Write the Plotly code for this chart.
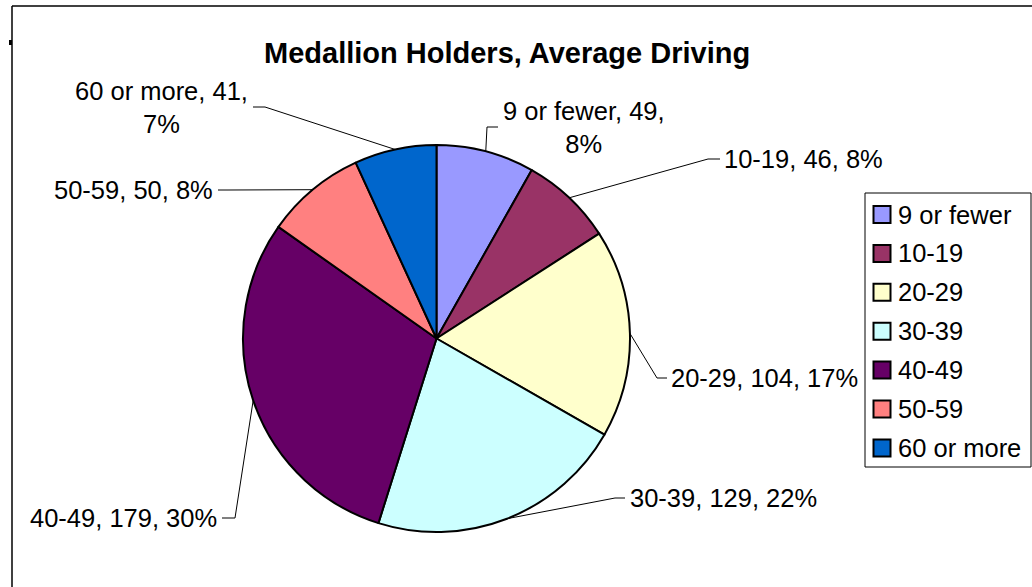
import math
import plotly.graph_objects as go

# ---- data ----
categories = ["9 or fewer", "10-19", "20-29", "30-39", "40-49", "50-59", "60 or more"]
counts = [49, 46, 104, 129, 179, 50, 41]
colors = ["#9999FF", "#993366", "#FFFFCC", "#CCFFFF", "#660066", "#FF8080", "#0066CC"]
title_text = "Medallion Holders, Average Driving"

# ---- layout constants (pixels) ----
W, H = 1032, 587
CX, CY, R = 436.5, 338.5, 193.5
FONT = "Arial, Liberation Sans, sans-serif"
FS = 25.5

def px(x):
    return x / W

def py(y):
    return 1 - y / H

total = sum(counts)

fig = go.Figure()
fig.add_trace(go.Pie(
    labels=categories, values=counts, sort=False, direction="clockwise", rotation=0,
    marker=dict(colors=colors, line=dict(color="black", width=2)),
    textinfo="none", showlegend=False,
    domain=dict(x=[px(CX - R), px(CX + R)], y=[py(CY + R), py(CY - R)]),
))

# label placement (text anchor, bend point, line end) in pixels
label_layout = [
    dict(tx=584, ty=127, xa="center", bend=(487, 127), end=(498, 127), two=True),
    dict(tx=722, ty=159, xa="left", bend=(708, 159), end=(720, 159), two=False),
    dict(tx=669, ty=378, xa="left", bend=(657, 378), end=(667, 378), two=False),
    dict(tx=628, ty=498, xa="left", bend=(615, 498), end=(625, 498), two=False),
    dict(tx=219, ty=518, xa="right", bend=(235, 518), end=(222, 518), two=False),
    dict(tx=215, ty=190, xa="right", bend=(228, 190), end=(218, 190), two=False),
    dict(tx=161, ty=107, xa="center", bend=(265, 107), end=(253, 107), two=True),
]

shapes = []
annotations = []
cum = 0
for cat, v, lay in zip(categories, counts, label_layout):
    mid = (cum + v / 2) / total * 2 * math.pi
    cum += v
    ex = CX + R * math.sin(mid)
    ey = CY - R * math.cos(mid)
    pct = round(100 * v / total)
    bx, by = lay["bend"]
    qx, qy = lay["end"]
    path = f"M {px(ex)} {py(ey)} L {px(bx)} {py(by)} L {px(qx)} {py(qy)}"
    shapes.append(dict(type="path", xref="paper", yref="paper", path=path,
                       line=dict(color="black", width=1)))
    if lay["two"]:
        txt = f"{cat}, {v},<br>{pct}%"
    else:
        txt = f"{cat}, {v}, {pct}%"
    annotations.append(dict(
        x=px(lay["tx"]), y=py(lay["ty"]), xref="paper", yref="paper",
        text=txt, showarrow=False, xanchor=lay["xa"], yanchor="middle",
        align="center", font=dict(family=FONT, size=FS, color="black"),
    ))

# title
annotations.append(dict(
    x=px(507), y=py(53), xref="paper", yref="paper", text=f"<b>{title_text}</b>",
    showarrow=False, xanchor="center", yanchor="middle",
    font=dict(family=FONT, size=29, color="black"),
))

# legend (manual, built from the category/color lists)
LX0, LY0, LX1, LY1 = 865, 193, 1031, 467
shapes.append(dict(type="rect", xref="paper", yref="paper",
                   x0=px(LX0), y0=py(LY1), x1=px(LX1), y1=py(LY0),
                   line=dict(color="black", width=1), fillcolor="white", layer="below"))
first_y, step = 214.5, 38.9
for i, (cat, col) in enumerate(zip(categories, colors)):
    yc = first_y + i * step
    shapes.append(dict(type="rect", xref="paper", yref="paper",
                       x0=px(873.5), x1=px(890.5), y0=py(yc + 8.5), y1=py(yc - 8.5),
                       fillcolor=col, line=dict(color="black", width=2)))
    annotations.append(dict(
        x=px(896), y=py(yc), xref="paper", yref="paper", text=cat, showarrow=False,
        xanchor="left", yanchor="middle", font=dict(family=FONT, size=FS, color="black"),
    ))

# chart frame (left and top edges visible)
shapes.append(dict(type="line", xref="paper", yref="paper",
                   x0=px(12), x1=px(12), y0=py(6), y1=py(H + 5), line=dict(color="black", width=1.5)))
shapes.append(dict(type="line", xref="paper", yref="paper",
                   x0=px(12), x1=px(W + 5), y0=py(6), y1=py(6), line=dict(color="black", width=1.5)))
shapes.append(dict(type="rect", xref="paper", yref="paper",
                   x0=px(9), x1=px(12), y0=py(45), y1=py(40),
                   fillcolor="black", line=dict(width=0)))

fig.update_layout(
    width=W, height=H, margin=dict(l=0, r=0, t=0, b=0),
    paper_bgcolor="white", plot_bgcolor="white",
    shapes=shapes, annotations=annotations, showlegend=False,
)

fig.write_html("out.html", config={"displayModeBar": False},
               post_script="document.body.style.margin='0';document.body.style.overflow='hidden';")
